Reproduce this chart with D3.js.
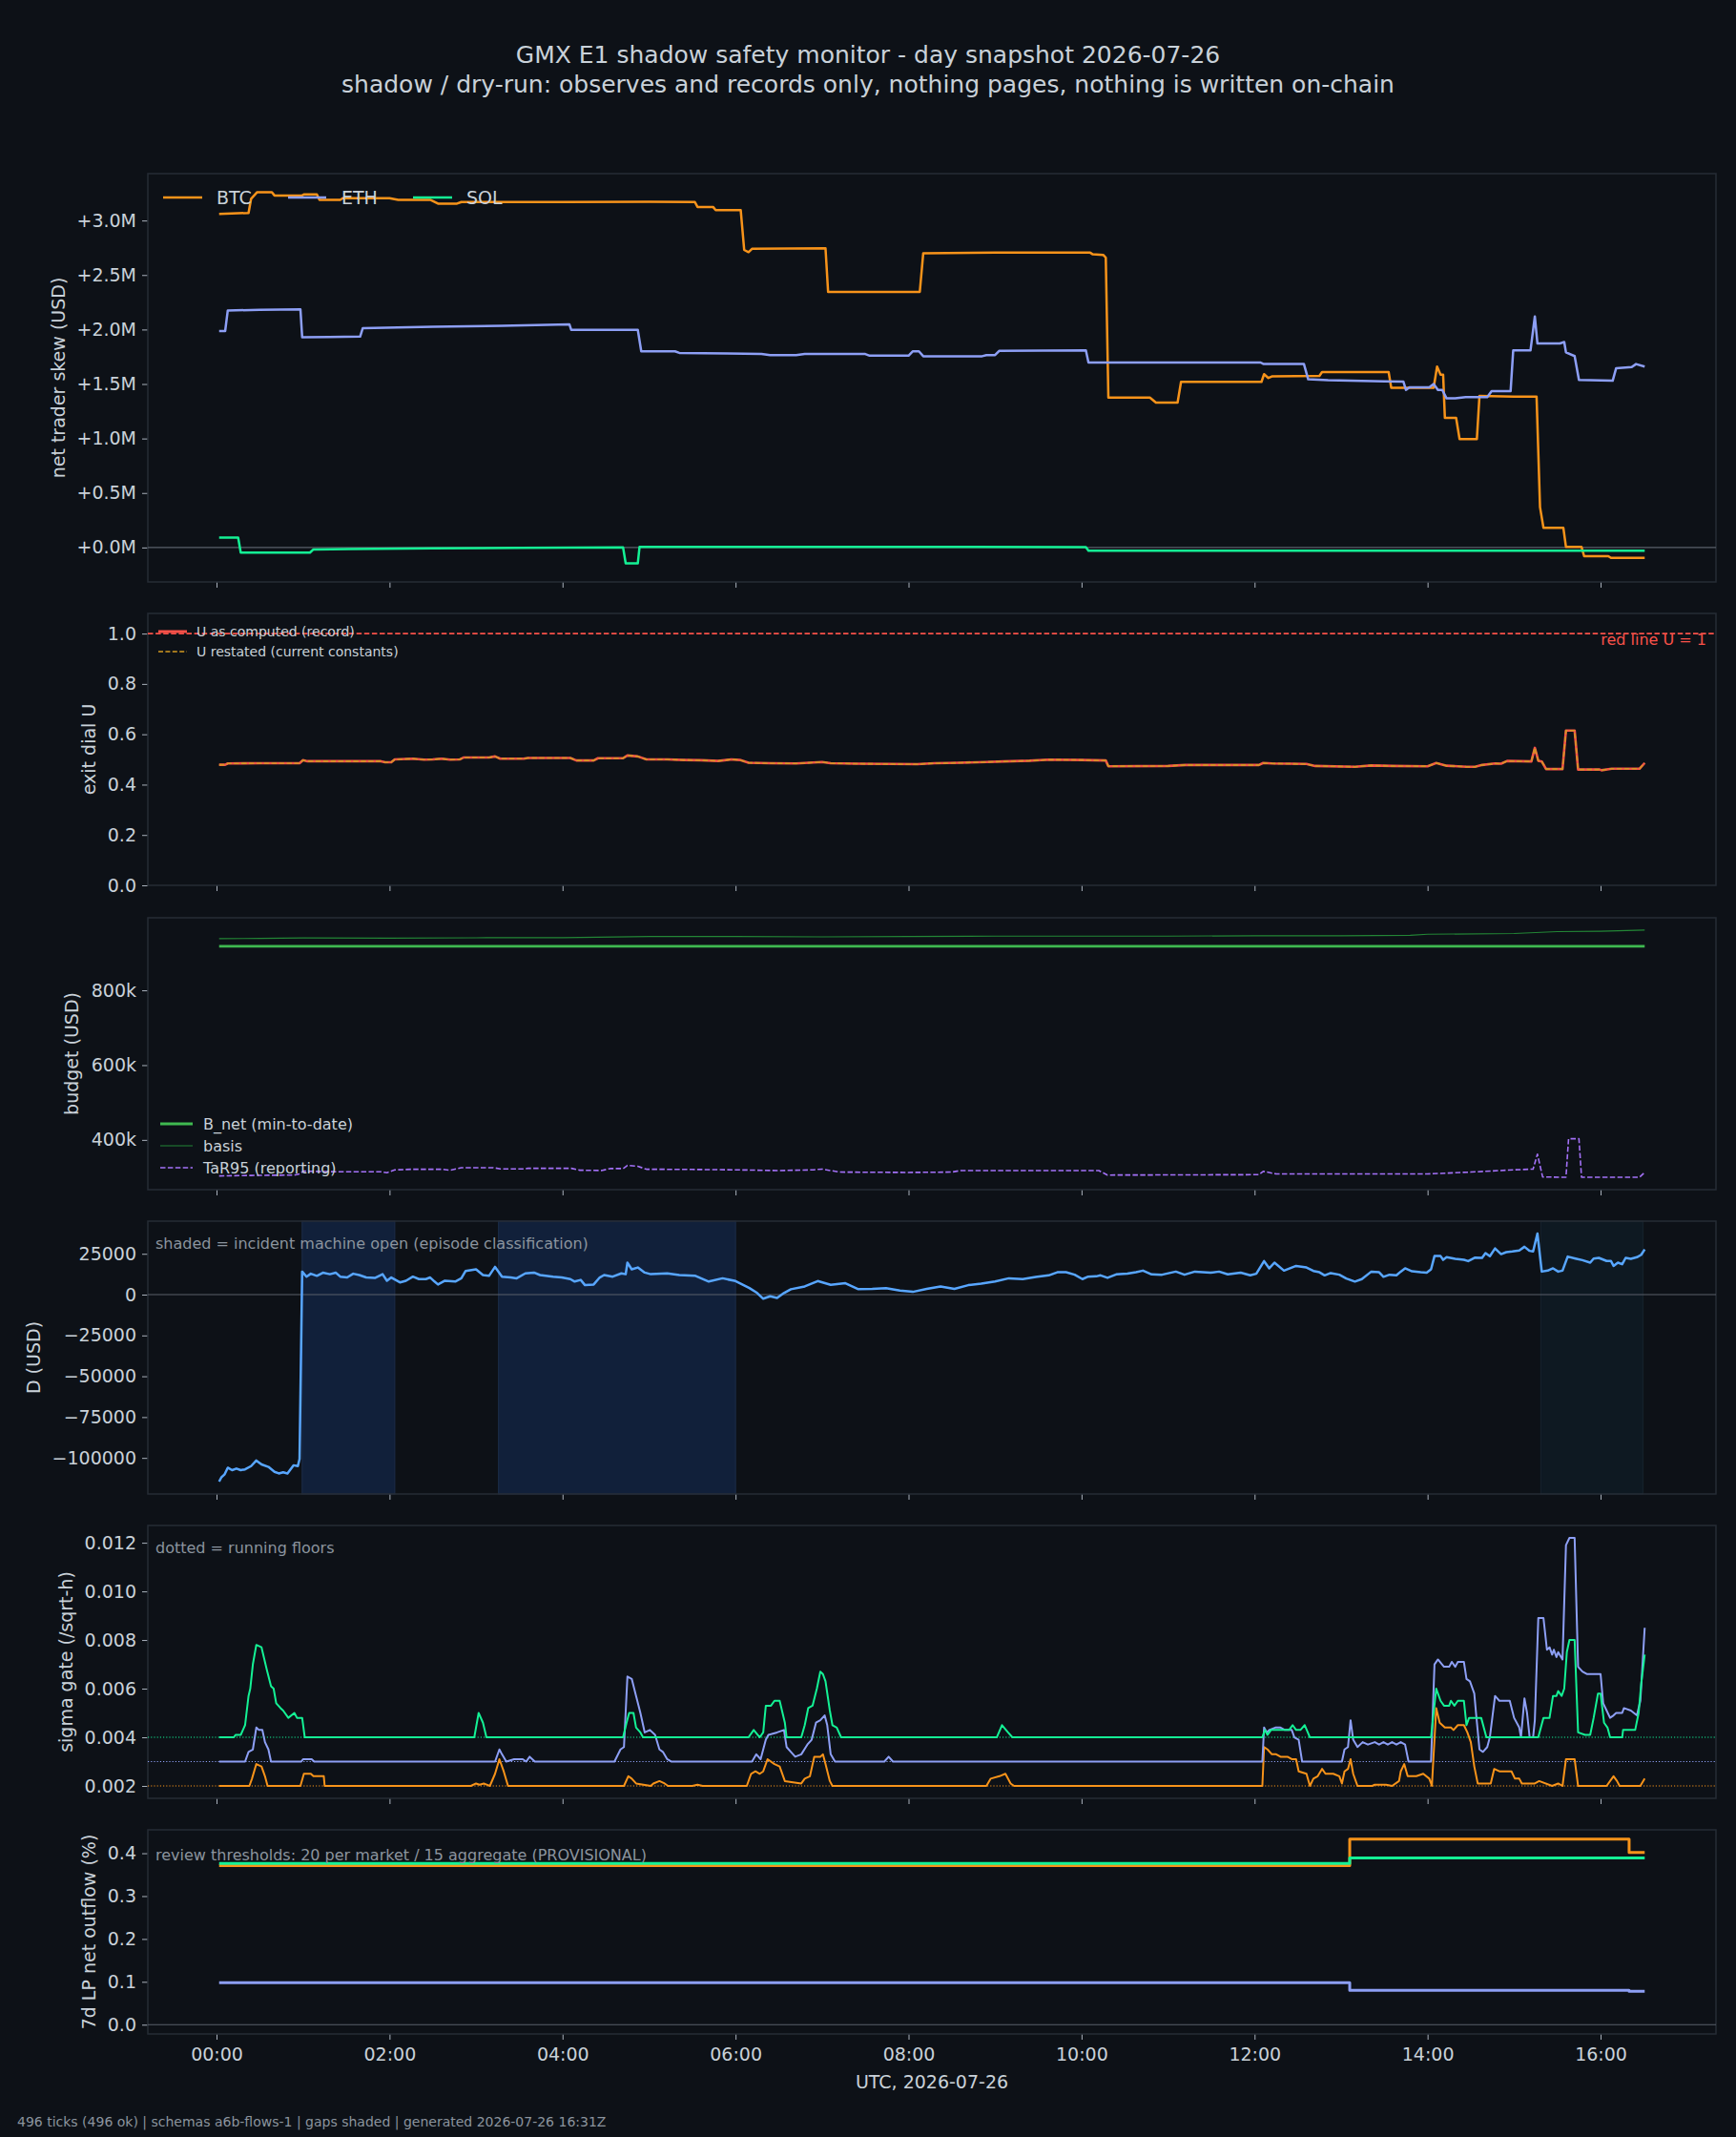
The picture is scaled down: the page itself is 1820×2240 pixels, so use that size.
<!DOCTYPE html>
<html>
<head>
<meta charset="utf-8">
<script src="https://cdn.jsdelivr.net/npm/d3@7"></script>
<style>
  body { margin: 0; background: #0d1117; }
  text { font-family: "DejaVu Sans", sans-serif; }
</style>
</head>
<body>
<div id="chart"></div>
<script>
// ---- data (time in hours UTC, 2026-07-26) ----
const hourTicks = [0, 2, 4, 6, 8, 10, 12, 14, 16];

// net trader skew, USD millions
const btcSkew = [[0.03,3.06],[0.37,3.07],[0.40,3.20],[0.47,3.26],[0.64,3.26],[0.67,3.23],[0.99,3.23],[1.01,3.24],[1.16,3.24],[1.19,3.19],[1.43,3.19],[1.46,3.205],[2.0,3.205],[2.1,3.19],[2.47,3.19],[2.56,3.155],[2.78,3.155],[2.83,3.17],[4.0,3.17],[5.0,3.172],[5.53,3.17],[5.56,3.125],[5.74,3.125],[5.77,3.095],[6.06,3.095],[6.1,2.73],[6.15,2.71],[6.19,2.74],[7.04,2.745],[7.07,2.345],[8.13,2.345],[8.17,2.70],[9.0,2.705],[10.1,2.705],[10.13,2.69],[10.25,2.685],[10.28,2.66],[10.31,1.376],[10.79,1.376],[10.86,1.33],[11.11,1.33],[11.15,1.52],[12.08,1.52],[12.11,1.59],[12.16,1.555],[12.2,1.57],[12.75,1.575],[12.78,1.61],[13.55,1.61],[13.58,1.465],[14.07,1.465],[14.11,1.66],[14.15,1.585],[14.18,1.585],[14.2,1.19],[14.33,1.19],[14.37,0.995],[14.57,0.995],[14.6,1.39],[15.0,1.385],[15.26,1.385],[15.3,0.37],[15.34,0.18],[15.57,0.18],[15.6,0.005],[15.78,0.005],[15.81,-0.08],[16.09,-0.08],[16.12,-0.095],[16.51,-0.095]];
const ethSkew = [[0.03,1.986],[0.1,1.986],[0.13,2.175],[0.5,2.18],[0.97,2.185],[0.99,1.93],[1.3,1.932],[1.66,1.935],[1.69,2.012],[2.5,2.025],[3.3,2.035],[4.08,2.047],[4.1,1.997],[4.87,1.997],[4.91,1.80],[5.3,1.80],[5.35,1.785],[5.9,1.78],[6.3,1.775],[6.4,1.765],[6.7,1.765],[6.8,1.775],[7.5,1.775],[7.55,1.76],[8.0,1.76],[8.05,1.80],[8.12,1.80],[8.17,1.755],[8.85,1.755],[8.9,1.765],[9.0,1.765],[9.05,1.805],[10.05,1.808],[10.08,1.697],[12.07,1.697],[12.1,1.685],[12.57,1.685],[12.62,1.543],[12.85,1.535],[13.5,1.525],[13.72,1.522],[13.75,1.446],[13.79,1.47],[14.02,1.47],[14.07,1.50],[14.12,1.445],[14.17,1.445],[14.22,1.368],[14.32,1.368],[14.44,1.38],[14.69,1.38],[14.74,1.435],[14.96,1.435],[14.99,1.808],[15.19,1.808],[15.24,2.12],[15.27,1.872],[15.53,1.872],[15.58,1.885],[15.6,1.79],[15.7,1.756],[15.75,1.537],[16.14,1.53],[16.18,1.645],[16.36,1.655],[16.41,1.683],[16.51,1.66]];
const solSkew = [[0.03,0.09],[0.25,0.09],[0.28,-0.047],[1.08,-0.047],[1.12,-0.018],[1.53,-0.015],[2.5,-0.008],[3.5,-0.004],[4.7,0.0],[4.73,-0.146],[4.87,-0.146],[4.89,0.005],[7.0,0.005],[10.05,0.004],[10.08,-0.029],[16.51,-0.029]];

// exit dial U
const uComputed = [[0.03,0.479],[0.1,0.479],[0.13,0.484],[0.5,0.485],[0.96,0.485],[1.0,0.497],[1.05,0.493],[1.9,0.493],[1.95,0.489],[2.02,0.489],[2.06,0.50],[2.27,0.503],[2.4,0.499],[2.5,0.50],[2.6,0.503],[2.7,0.499],[2.81,0.50],[2.86,0.508],[3.15,0.508],[3.22,0.512],[3.28,0.503],[3.55,0.503],[3.6,0.506],[4.09,0.506],[4.16,0.496],[4.36,0.496],[4.41,0.505],[4.7,0.505],[4.75,0.516],[4.87,0.512],[4.97,0.50],[5.21,0.50],[5.4,0.498],[5.6,0.497],[5.8,0.494],[5.95,0.50],[6.05,0.498],[6.15,0.487],[6.4,0.485],[6.7,0.484],[6.9,0.488],[7.0,0.49],[7.1,0.485],[7.4,0.483],[7.8,0.482],[8.1,0.481],[8.3,0.485],[8.6,0.487],[8.9,0.49],[9.1,0.492],[9.4,0.495],[9.62,0.499],[10.0,0.498],[10.28,0.496],[10.31,0.473],[11.0,0.474],[11.2,0.478],[12.05,0.478],[12.1,0.486],[12.2,0.484],[12.4,0.483],[12.6,0.482],[12.7,0.474],[13.16,0.471],[13.35,0.476],[13.6,0.474],[14.0,0.473],[14.1,0.486],[14.22,0.475],[14.45,0.471],[14.55,0.471],[14.63,0.478],[14.78,0.484],[14.85,0.483],[14.92,0.494],[15.2,0.492],[15.24,0.546],[15.28,0.495],[15.32,0.492],[15.37,0.462],[15.56,0.462],[15.6,0.615],[15.7,0.615],[15.74,0.46],[15.99,0.46],[16.01,0.457],[16.13,0.463],[16.45,0.463],[16.51,0.486]];
const uRestated = uComputed; // restatement under current constants matches the record
const redLine = 1;

// budget, USD thousands
const bNet = [[0.03,918],[16.51,918]];
const basis = [[0.03,938],[0.5,939],[1.0,940],[2.0,939.5],[3.0,940.5],[4.0,941],[5.0,944],[6.0,944],[7.0,943],[8.0,944],[9.0,945],[10.0,945],[11.0,945],[12.0,946],[13.0,946],[13.8,947],[14.0,950],[15.0,952],[15.5,957],[16.0,958],[16.51,961]];
const tar95 = [[0.03,303.7],[0.4,305],[0.9,306],[0.97,309.7],[1.0,316.5],[1.4,314.8],[1.9,314.8],[1.97,312.2],[2.06,319.9],[2.27,321.6],[2.6,321.6],[2.7,319],[2.83,325.8],[3.2,325.8],[3.28,322.4],[3.55,322.4],[3.6,324.1],[4.1,324.1],[4.2,319],[4.45,318.2],[4.55,323.3],[4.7,323.3],[4.75,331.8],[4.87,329.3],[4.97,321.6],[5.5,321],[6.0,320],[6.5,318],[6.9,320],[7.0,322],[7.2,314],[8.0,313],[8.5,314],[8.6,318],[10.2,318],[10.3,306],[12.05,307],[12.1,316],[12.25,309],[14.0,309],[14.5,314],[15.0,320],[15.22,322],[15.27,362],[15.33,301],[15.6,300],[15.63,403],[15.75,403],[15.78,300],[16.45,300],[16.51,313]];

// D, USD thousands
const dUsdK = [[0.03,-114.5],[0.055,-112],[0.094,-110],[0.13,-106],[0.18,-107.5],[0.23,-106.5],[0.28,-107.5],[0.33,-107],[0.40,-105],[0.46,-101.6],[0.52,-104],[0.60,-105.5],[0.67,-108.5],[0.72,-109.5],[0.77,-108.8],[0.82,-109.5],[0.89,-104.5],[0.94,-105],[0.96,-100.6],[0.99,14.1],[1.04,11],[1.09,12.8],[1.16,11.5],[1.23,13.4],[1.31,12.5],[1.38,13.4],[1.43,11],[1.51,10.5],[1.58,12.8],[1.65,12],[1.73,10.5],[1.83,10.2],[1.92,12.5],[1.97,8.5],[2.02,10.5],[2.12,7.5],[2.19,8.5],[2.27,11],[2.34,9.5],[2.42,9.5],[2.47,10.5],[2.52,8],[2.56,6.2],[2.64,8.5],[2.76,8],[2.83,10],[2.88,14.5],[3.0,15.5],[3.08,12],[3.15,11.5],[3.22,17],[3.3,11],[3.4,10.5],[3.47,10],[3.57,13],[3.67,13.5],[3.74,12],[3.89,11],[3.99,10.5],[4.09,9.5],[4.14,8],[4.21,9],[4.26,5.8],[4.36,6.2],[4.43,10.5],[4.48,12],[4.58,11],[4.68,13],[4.73,12.5],[4.75,19.6],[4.8,15.5],[4.87,16.6],[4.95,13.5],[5.02,12.5],[5.21,13],[5.35,12],[5.53,11.6],[5.69,8],[5.85,10],[6.0,8.3],[6.16,4],[6.25,1],[6.32,-2.5],[6.4,-1],[6.48,-2],[6.56,1],[6.64,3.3],[6.8,5],[6.95,8.3],[7.1,6],[7.27,7],[7.42,3.3],[7.58,3.5],[7.74,4],[7.9,2.5],[8.05,1.7],[8.21,3.5],[8.37,5],[8.53,3.5],[8.69,5.8],[8.84,6.7],[9.0,8],[9.16,10],[9.32,9.5],[9.47,10.8],[9.62,11.8],[9.72,13.7],[9.82,13.7],[9.92,12.2],[10.01,9.5],[10.07,10.9],[10.17,11.2],[10.22,11.8],[10.3,10.3],[10.4,12.4],[10.53,12.8],[10.63,13.7],[10.71,14.7],[10.81,12.4],[10.93,12.2],[11.09,14.1],[11.19,12.2],[11.31,14.1],[11.49,13.4],[11.59,14.1],[11.69,12.4],[11.84,13.4],[11.95,11.8],[12.02,12.8],[12.11,20.5],[12.17,16.1],[12.23,19.6],[12.34,14.7],[12.48,17.6],[12.6,16.6],[12.68,14.5],[12.75,13.7],[12.81,11.8],[12.88,13.2],[12.98,12.2],[13.06,9.9],[13.16,8],[13.24,9.5],[13.35,14.1],[13.44,13.7],[13.49,10.9],[13.56,12.2],[13.64,11.8],[13.69,14.1],[13.74,16.1],[13.82,14.3],[13.92,13.7],[13.99,13.4],[14.04,15.5],[14.08,23.6],[14.15,23.6],[14.18,21.3],[14.22,22.9],[14.32,21.9],[14.42,21.3],[14.47,20.5],[14.55,22.7],[14.63,22.5],[14.67,25.4],[14.72,23.5],[14.78,28.3],[14.85,24.8],[14.91,26.0],[14.98,26.4],[15.06,27.0],[15.12,29.3],[15.18,26.8],[15.22,26.4],[15.27,37.4],[15.32,14.1],[15.39,14.7],[15.45,16.1],[15.51,14.1],[15.56,14.7],[15.62,23.3],[15.71,22.1],[15.79,21.1],[15.88,19.6],[15.92,22.1],[15.98,22.5],[16.07,20.6],[16.12,20.6],[16.15,17.6],[16.2,19.6],[16.25,18.6],[16.29,22.5],[16.35,21.9],[16.42,22.9],[16.47,24.4],[16.51,27.7]];
// incident machine open spans [start, end, kind]
const incidentSpans = [[0.99, 2.06, 'open'], [3.26, 6.0, 'open'], [15.31, 16.49, 'late']];

// sigma gate (/sqrt-h)
const sigBtc = [[0.03,0.002],[0.38,0.002],[0.41,0.0023],[0.46,0.0029],[0.52,0.0028],[0.56,0.0024],[0.59,0.002],[0.97,0.002],[1.01,0.0025],[1.09,0.0025],[1.12,0.0024],[1.24,0.0024],[1.25,0.002],[2.94,0.002],[3.0,0.0021],[3.04,0.00205],[3.09,0.0021],[3.16,0.002],[3.22,0.0025],[3.27,0.0031],[3.32,0.0026],[3.37,0.002],[4.71,0.002],[4.76,0.0024],[4.8,0.0023],[4.85,0.0021],[5.02,0.002],[5.05,0.0021],[5.12,0.0022],[5.18,0.0021],[5.22,0.002],[5.5,0.002],[5.56,0.00205],[5.62,0.002],[6.13,0.002],[6.18,0.0025],[6.23,0.0026],[6.28,0.0025],[6.32,0.0026],[6.37,0.0031],[6.45,0.0029],[6.51,0.0028],[6.57,0.0022],[6.76,0.0021],[6.8,0.0023],[6.86,0.0024],[6.91,0.0032],[6.98,0.0032],[7.01,0.0033],[7.04,0.0029],[7.09,0.0022],[7.12,0.002],[8.9,0.002],[8.95,0.0023],[9.05,0.0024],[9.12,0.0025],[9.18,0.0021],[9.22,0.002],[12.09,0.002],[12.11,0.0036],[12.15,0.0035],[12.2,0.0033],[12.25,0.0033],[12.3,0.0032],[12.38,0.0032],[12.43,0.0031],[12.48,0.0031],[12.51,0.0026],[12.6,0.0025],[12.64,0.002],[12.68,0.0023],[12.73,0.0024],[12.78,0.0027],[12.82,0.0025],[12.91,0.0025],[12.98,0.0024],[13.01,0.0021],[13.04,0.0026],[13.08,0.0027],[13.11,0.0031],[13.14,0.0025],[13.19,0.002],[13.36,0.002],[13.39,0.00205],[13.52,0.00205],[13.59,0.002],[13.67,0.0022],[13.69,0.0026],[13.73,0.0029],[13.77,0.0024],[13.87,0.0024],[13.95,0.0025],[14.02,0.0023],[14.05,0.002],[14.1,0.0052],[14.14,0.0046],[14.2,0.0044],[14.27,0.0044],[14.3,0.0043],[14.35,0.0045],[14.42,0.0045],[14.46,0.0042],[14.5,0.0038],[14.54,0.0028],[14.58,0.0021],[14.73,0.0021],[14.77,0.0027],[14.83,0.0026],[14.97,0.0026],[15.01,0.0023],[15.06,0.0023],[15.09,0.0021],[15.24,0.0021],[15.29,0.0022],[15.44,0.002],[15.51,0.0021],[15.56,0.002],[15.6,0.0031],[15.7,0.0031],[15.74,0.002],[16.07,0.002],[16.11,0.0022],[16.15,0.0024],[16.19,0.0022],[16.22,0.002],[16.46,0.002],[16.51,0.0023]];
const sigEth = [[0.03,0.003],[0.33,0.003],[0.37,0.0034],[0.42,0.0035],[0.46,0.0044],[0.49,0.0043],[0.53,0.0043],[0.56,0.0038],[0.6,0.0035],[0.63,0.003],[0.98,0.003],[1.0,0.0031],[1.1,0.0031],[1.13,0.003],[3.22,0.003],[3.27,0.0035],[3.3,0.0033],[3.35,0.003],[3.44,0.0031],[3.54,0.0031],[3.58,0.003],[3.62,0.0032],[3.68,0.003],[4.6,0.003],[4.67,0.0035],[4.71,0.0036],[4.75,0.0065],[4.8,0.0064],[4.85,0.0057],[4.9,0.005],[4.95,0.0042],[5.01,0.0043],[5.07,0.0041],[5.12,0.0035],[5.16,0.0034],[5.21,0.0031],[5.26,0.003],[6.19,0.003],[6.24,0.0033],[6.29,0.0031],[6.35,0.0039],[6.38,0.0041],[6.48,0.0042],[6.56,0.0043],[6.59,0.0036],[6.64,0.0034],[6.69,0.0032],[6.76,0.0033],[6.83,0.0037],[6.88,0.0039],[6.93,0.0046],[6.98,0.0047],[7.03,0.0049],[7.06,0.0045],[7.1,0.0033],[7.15,0.003],[7.72,0.003],[7.77,0.0032],[7.82,0.003],[12.09,0.003],[12.11,0.0044],[12.14,0.0042],[12.17,0.0043],[12.24,0.0044],[12.3,0.0044],[12.35,0.0043],[12.43,0.0043],[12.46,0.004],[12.51,0.0039],[12.55,0.003],[13.01,0.003],[13.04,0.0035],[13.08,0.0036],[13.11,0.0047],[13.14,0.0039],[13.19,0.0036],[13.25,0.0038],[13.31,0.0037],[13.39,0.0038],[13.44,0.0037],[13.49,0.0038],[13.54,0.0037],[13.59,0.0038],[13.64,0.0037],[13.69,0.0038],[13.74,0.0037],[13.78,0.003],[14.04,0.003],[14.08,0.007],[14.12,0.0072],[14.19,0.0069],[14.25,0.0069],[14.28,0.0071],[14.32,0.0069],[14.35,0.0071],[14.42,0.0071],[14.45,0.0064],[14.49,0.0063],[14.54,0.0058],[14.56,0.005],[14.6,0.0035],[14.64,0.0034],[14.69,0.0036],[14.72,0.004],[14.78,0.0057],[14.83,0.0055],[14.95,0.0055],[15.0,0.0048],[15.06,0.0044],[15.08,0.004],[15.12,0.0056],[15.15,0.005],[15.18,0.004],[15.22,0.004],[15.24,0.0047],[15.28,0.0089],[15.34,0.0089],[15.38,0.0076],[15.41,0.0077],[15.44,0.0074],[15.46,0.0076],[15.49,0.0073],[15.51,0.0075],[15.56,0.0072],[15.6,0.0119],[15.64,0.0122],[15.7,0.0122],[15.74,0.0069],[15.79,0.0067],[15.84,0.0066],[16.0,0.0066],[16.03,0.0054],[16.07,0.0051],[16.11,0.0048],[16.15,0.0049],[16.18,0.005],[16.25,0.005],[16.27,0.0052],[16.35,0.0051],[16.42,0.0049],[16.46,0.0055],[16.51,0.0085]];
const sigSol = [[0.03,0.004],[0.2,0.004],[0.22,0.0041],[0.28,0.0041],[0.33,0.0045],[0.37,0.0057],[0.39,0.006],[0.42,0.007],[0.46,0.0078],[0.52,0.0077],[0.58,0.0068],[0.63,0.0061],[0.66,0.006],[0.69,0.0054],[0.74,0.0052],[0.77,0.0051],[0.83,0.0048],[0.9,0.005],[0.93,0.0048],[0.99,0.0048],[1.02,0.004],[2.98,0.004],[3.03,0.005],[3.08,0.0046],[3.12,0.004],[4.7,0.004],[4.74,0.0046],[4.77,0.005],[4.82,0.005],[4.85,0.0044],[4.9,0.0042],[4.93,0.004],[6.15,0.004],[6.21,0.0043],[6.28,0.004],[6.32,0.0042],[6.35,0.0053],[6.41,0.0053],[6.45,0.0055],[6.51,0.0055],[6.57,0.0046],[6.59,0.004],[6.76,0.004],[6.8,0.0045],[6.84,0.0052],[6.89,0.0053],[6.94,0.006],[6.98,0.0067],[7.01,0.0066],[7.04,0.0063],[7.09,0.0051],[7.12,0.0045],[7.17,0.0044],[7.22,0.004],[9.02,0.004],[9.08,0.0045],[9.15,0.0042],[9.2,0.004],[12.09,0.004],[12.12,0.0043],[12.15,0.0041],[12.19,0.0043],[12.4,0.0043],[12.44,0.0045],[12.48,0.0043],[12.53,0.0043],[12.58,0.0045],[12.64,0.004],[14.04,0.004],[14.1,0.006],[14.15,0.0055],[14.19,0.0053],[14.25,0.0053],[14.27,0.0055],[14.31,0.0053],[14.35,0.0055],[14.42,0.0055],[14.45,0.0045],[14.48,0.0048],[14.62,0.0048],[14.68,0.004],[15.28,0.004],[15.34,0.0048],[15.41,0.0048],[15.45,0.0057],[15.49,0.0057],[15.51,0.0059],[15.55,0.0057],[15.58,0.006],[15.61,0.0075],[15.64,0.008],[15.7,0.008],[15.74,0.0042],[15.82,0.0041],[15.88,0.0041],[15.92,0.0048],[15.97,0.0058],[16.0,0.0058],[16.04,0.0046],[16.08,0.0044],[16.11,0.004],[16.25,0.004],[16.26,0.0043],[16.4,0.0043],[16.44,0.005],[16.47,0.0062],[16.51,0.0074]];
const sigFloors = { btc: 0.002, eth: 0.003, sol: 0.004 };

// 7d LP net outflow (%), step after
const lpBtc = [[0.03,0.371],[13.1,0.433],[16.33,0.402],[16.51,0.402]];
const lpSol = [[0.03,0.376],[13.1,0.389],[16.51,0.389]];
const lpEth = [[0.03,0.098],[13.1,0.080],[16.33,0.078],[16.51,0.078]];

// ---- styling ----
const bg = '#0d1117', fg = '#c9d1d9', muted = '#8b949e', spine = '#262c36', zero = '#5a616b';
const cBtc = '#f7931a', cEth = '#8d9ff5', cSol = '#14f195';

const W = 1820, H = 2240, left = 155, right = 1799;
const svg = d3.select('#chart').append('svg')
    .attr('width', W).attr('height', H)
    .style('background', bg);

const tFirst = 0.03, tLast = 16.51, tPad = (tLast - tFirst) * 0.05;
const x = d3.scaleLinear().domain([tFirst - tPad, tLast + tPad]).range([left, right]);

function autoY(top, bottom, seriesList, extra) {
    let vals = [];
    seriesList.forEach(s => s.forEach(d => vals.push(d[1])));
    if (extra) vals = vals.concat(extra);
    const [a, b] = d3.extent(vals);
    const p = (b - a) * 0.05;
    return d3.scaleLinear().domain([a - p, b + p]).range([bottom, top]);
}

function frame(top, bottom, y, ticks, fmt, label, labelX, showX) {
    const ya = svg.append('g')
        .attr('transform', `translate(${left},0)`)
        .call(d3.axisLeft(y).tickValues(ticks).tickFormat(fmt).tickSize(6).tickPadding(6));
    const xa = svg.append('g')
        .attr('transform', `translate(0,${bottom})`)
        .call(d3.axisBottom(x).tickValues(hourTicks)
            .tickFormat(showX ? (h => d3.format('02d')(h) + ':00') : '')
            .tickSize(6).tickPadding(9));
    [ya, xa].forEach(a => {
        a.select('.domain').remove();
        a.selectAll('line').attr('stroke', '#aab2bc');
        a.selectAll('text').attr('fill', fg).style('font-size', '19px');
    });
    svg.append('rect')
        .attr('x', left).attr('y', top)
        .attr('width', right - left).attr('height', bottom - top)
        .attr('fill', 'none').attr('stroke', spine).attr('stroke-width', 1.5);
    svg.append('text')
        .attr('transform', `translate(${labelX},${(top + bottom) / 2}) rotate(-90)`)
        .attr('text-anchor', 'middle').attr('dominant-baseline', 'central')
        .attr('fill', fg).style('font-size', '19px')
        .text(label);
}

function drawLine(data, y, color, width, dash, curve) {
    const gen = d3.line().x(d => x(d[0])).y(d => y(d[1]));
    if (curve) gen.curve(curve);
    svg.append('path')
        .datum(data)
        .attr('d', gen)
        .attr('fill', 'none')
        .attr('stroke', color)
        .attr('stroke-width', width)
        .attr('stroke-linejoin', 'round')
        .attr('stroke-dasharray', dash || null);
}

function hline(y, v, color, width, dash) {
    svg.append('line')
        .attr('x1', left).attr('x2', right)
        .attr('y1', y(v)).attr('y2', y(v))
        .attr('stroke', color).attr('stroke-width', width)
        .attr('stroke-dasharray', dash || null);
}

function note(xp, yp, txt, size, color, anchor) {
    svg.append('text')
        .attr('x', xp).attr('y', yp)
        .attr('fill', color).style('font-size', size + 'px')
        .attr('text-anchor', anchor || 'start')
        .text(txt);
}

function legendRow(x1, x2, yl, color, width, dash, label, size, tx) {
    svg.append('line')
        .attr('x1', x1).attr('x2', x2).attr('y1', yl).attr('y2', yl)
        .attr('stroke', color).attr('stroke-width', width)
        .attr('stroke-dasharray', dash || null);
    note(tx, yl + size * 0.36, label, size, fg);
}

// ---- title ----
note(910, 66, 'GMX E1 shadow safety monitor - day snapshot 2026-07-26', 25, fg, 'middle');
note(910, 97, 'shadow / dry-run: observes and records only, nothing pages, nothing is written on-chain', 25, fg, 'middle');

// ---- panel 1: skew ----
{
    const top = 182, bottom = 610;
    const y = autoY(top, bottom, [btcSkew, ethSkew, solSkew], [0]);
    frame(top, bottom, y, [0, 0.5, 1, 1.5, 2, 2.5, 3],
        d => (d < 0 ? '−' : '+') + Math.abs(d).toFixed(1) + 'M', 'net trader skew (USD)', 61, false);
    hline(y, 0, zero, 1.2);
    drawLine(btcSkew, y, cBtc, 2.5);
    drawLine(ethSkew, y, cEth, 2.5);
    drawLine(solSkew, y, cSol, 2.5);
    legendRow(171, 212, 207, cBtc, 2.5, null, 'BTC', 19, 227);
    legendRow(302, 342, 207, cEth, 2.5, null, 'ETH', 19, 358);
    legendRow(433, 474, 207, cSol, 2.5, null, 'SOL', 19, 489);
}

// ---- panel 2: exit dial U ----
{
    const top = 643, bottom = 928;
    const y = d3.scaleLinear().domain([0, 1.08]).range([bottom, top]);
    frame(top, bottom, y, [0, 0.2, 0.4, 0.6, 0.8, 1.0], d3.format('.1f'), 'exit dial U', 93, false);
    hline(y, redLine, '#f85149', 1.8, '5.5,2.6');
    note(1789, 676, 'red line U = 1', 16, '#f85149', 'end');
    drawLine(uComputed, y, '#f85149', 2.6);
    drawLine(uRestated, y, '#d29922', 1.6, '5.5,2.4');
    legendRow(166, 196, 662, '#f85149', 3, null, 'U as computed (record)', 14, 206);
    legendRow(166, 196, 683, '#d29922', 1.6, '5,2.4', 'U restated (current constants)', 14, 206);
}

// ---- panel 3: budget ----
{
    const top = 962, bottom = 1247;
    const y = autoY(top, bottom, [bNet, basis, tar95]);
    frame(top, bottom, y, [400, 600, 800], d => d + 'k', 'budget (USD)', 75, false);
    drawLine(basis, y, '#238636', 1.2);
    drawLine(bNet, y, '#3fb950', 2.8);
    drawLine(tar95, y, '#a371f7', 1.6, '5.5,2.4');
    legendRow(168, 202, 1178, '#3fb950', 2.8, null, 'B_net (min-to-date)', 16, 213);
    legendRow(168, 202, 1201, '#238636', 1.2, null, 'basis', 16, 213);
    legendRow(168, 202, 1224, '#a371f7', 1.6, '5.5,2.4', 'TaR95 (reporting)', 16, 213);
}

// ---- panel 4: D ----
{
    const top = 1280, bottom = 1566;
    const y = autoY(top, bottom, [dUsdK], [0]);
    svg.selectAll('.span').data(incidentSpans).enter().append('rect')
        .attr('class', 'span')
        .attr('x', d => x(d[0])).attr('width', d => x(d[1]) - x(d[0]))
        .attr('y', top).attr('height', bottom - top)
        .attr('fill', d => d[2] === 'open' ? '#11203a' : '#0e1922')
        .attr('stroke', d => d[2] === 'open' ? '#1a2a45' : '#15212b')
        .attr('stroke-width', 1.2);
    frame(top, bottom, y, [-100, -75, -50, -25, 0, 25],
        d => d === 0 ? '0' : (d < 0 ? '−' : '') + Math.abs(d * 1000), 'D (USD)', 35, false);
    hline(y, 0, zero, 1.2);
    drawLine(dUsdK, y, '#58a6ff', 2.5);
    note(163, 1309, 'shaded = incident machine open (episode classification)', 16, muted);
}

// ---- panel 5: sigma gate ----
{
    const top = 1599, bottom = 1885;
    const y = autoY(top, bottom, [sigBtc, sigEth, sigSol]);
    frame(top, bottom, y, [0.002, 0.004, 0.006, 0.008, 0.010, 0.012], d3.format('.3f'), 'sigma gate (/sqrt-h)', 69, false);
    hline(y, sigFloors.btc, cBtc, 1.1, '1.2,2');
    hline(y, sigFloors.eth, cEth, 1.1, '1.2,2');
    hline(y, sigFloors.sol, cSol, 1.1, '1.2,2');
    drawLine(sigBtc, y, cBtc, 2);
    drawLine(sigEth, y, cEth, 2);
    drawLine(sigSol, y, cSol, 2);
    note(163, 1628, 'dotted = running floors', 16, muted);
}

// ---- panel 6: LP outflow ----
{
    const top = 1918, bottom = 2132;
    const y = autoY(top, bottom, [lpBtc, lpSol, lpEth], [0]);
    frame(top, bottom, y, [0, 0.1, 0.2, 0.3, 0.4], d3.format('.1f'), '7d LP net outflow (%)', 93, true);
    hline(y, 0, zero, 1.2);
    drawLine(lpBtc, y, cBtc, 3, null, d3.curveStepAfter);
    drawLine(lpEth, y, cEth, 3, null, d3.curveStepAfter);
    drawLine(lpSol, y, cSol, 3, null, d3.curveStepAfter);
    note(163, 1950, 'review thresholds: 20 per market / 15 aggregate (PROVISIONAL)', 16, muted);
    note((left + right) / 2, 2189, 'UTC, 2026-07-26', 19, fg, 'middle');
}

// ---- footer ----
note(18, 2229, '496 ticks (496 ok) | schemas a6b-flows-1 | gaps shaded | generated 2026-07-26 16:31Z', 14, muted);
</script>
</body>
</html>
